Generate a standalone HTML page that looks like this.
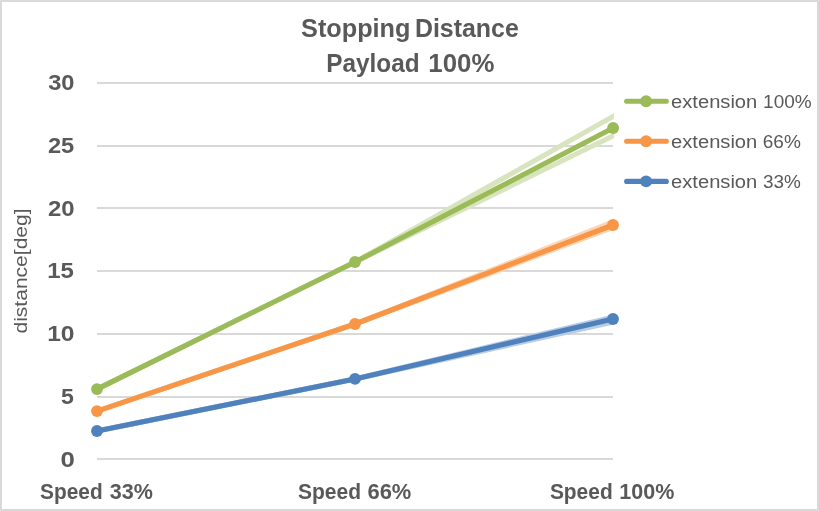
<!DOCTYPE html>
<html><head><meta charset="utf-8"><title>Stopping Distance Payload 100%</title>
<style>
html,body{margin:0;padding:0;background:#fff;}
body{width:819px;height:511px;overflow:hidden;}
svg{display:block;}
text{font-family:"Liberation Sans",Arial,sans-serif;fill:#595959;}
</style></head>
<body>
<svg width="819" height="511" viewBox="0 0 819 511">
<rect x="0" y="0" width="819" height="511" fill="#ffffff"/>
<rect x="1" y="1" width="817" height="509" fill="none" stroke="#D9D9D9" stroke-width="2"/>
<rect x="0" y="0" width="1" height="1" fill="#E9E9E9"/><rect x="818" y="0" width="1" height="1" fill="#E9E9E9"/><rect x="0" y="510" width="1" height="1" fill="#E9E9E9"/><rect x="818" y="510" width="1" height="1" fill="#E9E9E9"/>
<g>
<rect x="97" y="82" width="516" height="2" fill="#D9D9D9"/>
<rect x="97" y="145" width="516" height="2" fill="#D9D9D9"/>
<rect x="97" y="207" width="516" height="2" fill="#D9D9D9"/>
<rect x="97" y="270" width="516" height="2" fill="#D9D9D9"/>
<rect x="97" y="333" width="516" height="2" fill="#D9D9D9"/>
<rect x="97" y="396" width="516" height="2" fill="#D9D9D9"/>
<rect x="97" y="458" width="516" height="2" fill="#D9D9D9"/>
</g>
<defs><clipPath id="plot"><rect x="0" y="0" width="614" height="511"/></clipPath></defs>
<g clip-path="url(#plot)">
<polyline points="97,389.1 355,262 621.1,111.84" fill="none" stroke="#D7E4BD" stroke-width="5.1" stroke-linejoin="round"/>
<polyline points="97,389.1 355,262 621.1,132.04" fill="none" stroke="#D7E4BD" stroke-width="5.1" stroke-linejoin="round"/>
<polyline points="97,411.1 355,324 621,218.84" fill="none" stroke="#FCD5B5" stroke-width="5.1" stroke-linejoin="round"/>
<polyline points="97,411.1 355,324 621,224.30" fill="none" stroke="#FCD5B5" stroke-width="5.1" stroke-linejoin="round"/>
<polyline points="97,431.0 355,378.9 621,315.08" fill="none" stroke="#B9CDE5" stroke-width="5.1" stroke-linejoin="round"/>
<polyline points="97,431.0 355,378.9 621,320.34" fill="none" stroke="#B9CDE5" stroke-width="5.1" stroke-linejoin="round"/>
</g>
<g>
<polyline points="97,431.0 355,378.9 613,319" fill="none" stroke="#4F81BD" stroke-width="5.1" stroke-linejoin="round" stroke-linecap="round"/>
<circle cx="97" cy="431.0" r="5.95" fill="#4F81BD"/>
<circle cx="355" cy="378.9" r="5.95" fill="#4F81BD"/>
<circle cx="613" cy="319" r="5.95" fill="#4F81BD"/>
<polyline points="97,411.1 355,324 613,225" fill="none" stroke="#F79646" stroke-width="5.1" stroke-linejoin="round" stroke-linecap="round"/>
<circle cx="97" cy="411.1" r="5.95" fill="#F79646"/>
<circle cx="355" cy="324" r="5.95" fill="#F79646"/>
<circle cx="613" cy="225" r="5.95" fill="#F79646"/>
<polyline points="97,389.1 355,262 613.1,128.05" fill="none" stroke="#9BBB59" stroke-width="5.1" stroke-linejoin="round" stroke-linecap="round"/>
<circle cx="97" cy="389.1" r="5.95" fill="#9BBB59"/>
<circle cx="355" cy="262" r="5.95" fill="#9BBB59"/>
<circle cx="613.1" cy="128.05" r="5.95" fill="#9BBB59"/>
</g>
<g>
<line x1="626.65" y1="101.2" x2="666.35" y2="101.2" stroke="#9BBB59" stroke-width="5.1" stroke-linecap="round"/>
<circle cx="646.1" cy="101.2" r="5.95" fill="#9BBB59"/>
<line x1="626.65" y1="141.3" x2="666.35" y2="141.3" stroke="#F79646" stroke-width="5.1" stroke-linecap="round"/>
<circle cx="646.1" cy="141.3" r="5.95" fill="#F79646"/>
<line x1="626.65" y1="181.4" x2="666.35" y2="181.4" stroke="#4F81BD" stroke-width="5.1" stroke-linecap="round"/>
<circle cx="646.1" cy="181.4" r="5.95" fill="#4F81BD"/>
</g>
<g>
<text transform="translate(301.07 36.80) scale(0.9785 1)" font-size="25.8" font-weight="bold">Stopping</text>
<text transform="translate(414.91 36.80) scale(0.9667 1)" font-size="25.8" font-weight="bold">Distance</text>
<text transform="translate(326.25 71.50) scale(0.9435 1)" font-size="25.8" font-weight="bold">Payload</text>
<text transform="translate(428.35 71.50) scale(1.0000 1)" font-size="25.8" font-weight="bold">100%</text>
<text transform="translate(40.09 499.00) scale(0.9528 1)" font-size="21.9" font-weight="bold">Speed</text>
<text transform="translate(109.81 499.00) scale(0.9744 1)" font-size="22.1" font-weight="bold">33%</text>
<text transform="translate(297.98 499.00) scale(0.9606 1)" font-size="21.9" font-weight="bold">Speed</text>
<text transform="translate(367.46 499.00) scale(0.9918 1)" font-size="22.1" font-weight="bold">66%</text>
<text transform="translate(549.88 499.00) scale(0.9559 1)" font-size="21.9" font-weight="bold">Speed</text>
<text transform="translate(619.24 499.00) scale(0.9743 1)" font-size="22.1" font-weight="bold">100%</text>
<text transform="translate(48.16 89.60) scale(1.0710 1)" font-size="22.1" font-weight="bold">30</text>
<text transform="translate(47.90 152.50) scale(1.0710 1)" font-size="22.1" font-weight="bold">25</text>
<text transform="translate(47.99 216.00) scale(1.0826 1)" font-size="22.1" font-weight="bold">20</text>
<text transform="translate(47.17 278.20) scale(1.0844 1)" font-size="22.1" font-weight="bold">15</text>
<text transform="translate(47.13 341.00) scale(1.1146 1)" font-size="22.1" font-weight="bold">10</text>
<text transform="translate(61.02 403.70) scale(1.0455 1)" font-size="22.1" font-weight="bold">5</text>
<text transform="translate(60.43 466.70) scale(1.1667 1)" font-size="22.1" font-weight="bold">0</text>
<text transform="translate(671.09 107.60) scale(1.0830 1)" font-size="18.6" font-weight="normal">extension</text>
<text transform="translate(763.12 107.60) scale(0.9894 1)" font-size="19.2" font-weight="normal">100%</text>
<text transform="translate(671.09 147.80) scale(1.0830 1)" font-size="18.6" font-weight="normal">extension</text>
<text transform="translate(762.71 147.80) scale(0.9932 1)" font-size="19.2" font-weight="normal">66%</text>
<text transform="translate(671.09 187.80) scale(1.0830 1)" font-size="18.6" font-weight="normal">extension</text>
<text transform="translate(762.96 187.80) scale(0.9865 1)" font-size="19.2" font-weight="normal">33%</text>
<text transform="translate(27.00 333.52) rotate(-90) scale(1.0964 1)" font-size="19.2" font-weight="normal">distance[deg]</text>
</g>
</svg>
</body></html>
